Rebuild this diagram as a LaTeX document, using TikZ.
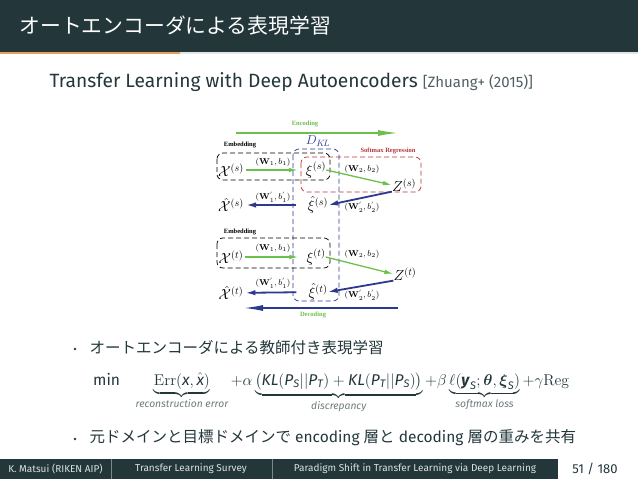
\documentclass[tikz,border=0pt]{standalone}
\usepackage{fix-cm}
\usepackage{amsmath}
\usepackage[no-math]{fontspec}
\setmainfont{Fira Sans}
\newfontfamily\jp{Noto Sans CJK JP}
\newfontfamily\tms{Liberation Serif}
\usetikzlibrary{arrows.meta}
\definecolor{mDark}{HTML}{23373B}
\definecolor{mOrange}{HTML}{E3A25C}
\definecolor{mLight}{HTML}{E4E4E4}
\definecolor{aeGreen}{HTML}{6CBF4A}
\definecolor{aeBlue}{HTML}{2B3A8F}
\definecolor{aeRed}{HTML}{B5343A}
\definecolor{footText}{HTML}{DCE1E2}
\definecolor{braceText}{HTML}{6F7B7D}
\newcommand{\bracelbl}[1]{\text{\fontsize{10.3}{11}\selectfont\itshape\color{braceText}#1}}

\begin{document}
\begin{tikzpicture}[x=1pt,y=-1pt,
  lbl/.style={font=\tms\bfseries\fontsize{6.5}{7}\selectfont,inner sep=0pt},
  var/.style={inner sep=0pt,font=\fontsize{14.5}{15}\selectfont},
  par/.style={inner sep=0pt,font=\fontsize{8.5}{9}\selectfont},
  dbox/.style={dash pattern=on 5pt off 3pt,rounded corners=6pt,line width=0.7pt},
  enc/.style={draw=aeGreen,line width=1.3pt,-{Latex[length=9pt,width=4.5pt]}},
  dec/.style={draw=aeBlue,line width=1.8pt,-{Latex[length=10pt,width=5.5pt]}},
  bul/.style={circle,fill=mDark,inner sep=0.9pt},
  foot/.style={text=footText,font=\fontsize{10}{12}\selectfont}]
\useasboundingbox (0,0) rectangle (638,479);

% header
\fill[mDark] (0,0) rectangle (638,52);
\fill[mLight] (0,52) rectangle (638,53.5);
\fill[mOrange] (0,52) rectangle (180,53.5);
\node[anchor=west,text=white,font=\jp\fontsize{20.8}{24}\selectfont] (title) at (16,26) {オートエンコーダによる表現学習};

\node[anchor=west,text=mDark,font=\fontsize{19.2}{22}\selectfont] (sub) at (46,82)
  {Transfer Learning with Deep Autoencoders {\fontsize{15}{17}\selectfont\color{mDark!80}[Zhuang+ (2015)]}};

% figure
\coordinate (encA) at (236,133);
\coordinate (encB) at (398,133);
\draw[draw=aeGreen,line width=1.4pt,-{Latex[length=20pt,width=6pt]}] (encA) -- (encB);
\node[lbl,text=aeGreen] (enc) at (305,124) {Encoding};
\node[lbl] (embS) at (240,145) {Embedding};
\node[lbl,text=aeRed] (soft) at (388,151) {Softmax Regression};
\node[inner sep=0pt,text=aeBlue,font=\fontsize{13}{14}\selectfont] (dkl) at (318,141) {$D_{K\!L}$};

\draw[dbox,aeBlue] (293,149) rectangle (339,301);
\draw[dbox,aeRed] (301,157) rectangle (421,192);
\draw[dbox] (217,153) rectangle (330,180);
\draw[dbox] (217,238) rectangle (330,268);

% source
\node[var] (xs) at (231,170) {$\mathcal{X}^{(s)}$};
\node[var] (xis) at (316,170) {$\xi^{(s)}$};
\node[var] (zs) at (404,185) {$Z^{(s)}$};
\node[var] (xihs) at (318,205) {$\hat{\xi}^{(s)}$};
\node[var] (xhs) at (231,205) {$\hat{\mathcal{X}}^{(s)}$};
\node[par] (w1s) at (273,162) {$(\mathbf{W}_1,b_1)$};
\node[par] (w2s) at (362,169) {$(\mathbf{W}_2,b_2)$};
\node[par] (w2hs) at (362,207) {$(\mathbf{W}_2^{'},b_2^{'})$};
\node[par] (w1hs) at (273,197) {$(\mathbf{W}_1^{'},b_1^{'})$};
\draw[enc,shorten <=2pt,shorten >=8pt] (xs) -- (xis);
\draw[enc] (xis.east) -- (zs.west);
\draw[dec] (zs.south west) -- (xihs.east);
\draw[dec,shorten <=12pt,shorten >=2pt] (xihs) -- (xhs);

% target
\node[lbl] (embT) at (240,232) {Embedding};
\node[var] (xt) at (231,257) {$\mathcal{X}^{(t)}$};
\node[var] (xit) at (316,257) {$\xi^{(t)}$};
\node[var] (zt) at (405,274) {$Z^{(t)}$};
\node[var] (xiht) at (318,292) {$\hat{\xi}^{(t)}$};
\node[var] (xht) at (231,293) {$\hat{\mathcal{X}}^{(t)}$};
\node[par] (w1t) at (273,248) {$(\mathbf{W}_1,b_1)$};
\node[par] (w2t) at (362,254) {$(\mathbf{W}_2,b_2)$};
\node[par] (w2ht) at (362,295) {$(\mathbf{W}_2^{'},b_2^{'})$};
\node[par] (w1ht) at (273,283) {$(\mathbf{W}_1^{'},b_1^{'})$};
\draw[enc,shorten <=2pt,shorten >=8pt] (xt) -- (xit);
\draw[enc] (xit.east) -- (zt.west);
\draw[dec] (zt.south west) -- (xiht.east);
\draw[dec,shorten <=12pt,shorten >=2pt] (xiht) -- (xht);

\coordinate (decA) at (398,308);
\coordinate (decB) at (243,308);
\draw[draw=aeBlue,line width=1.8pt,-{Latex[length=20pt,width=6pt]}] (decA) -- (decB);
\node[lbl,text=aeGreen] (dec) at (313,315) {Decoding};

% bullets
\node[bul] (b1) at (75,349) {};
\node[anchor=west,text=mDark,font=\jp\fontsize{15.5}{18}\selectfont] (item1) at (86,348) {オートエンコーダによる教師付き表現学習};
\node[anchor=north west,text=mDark,inner sep=0pt,font=\fontsize{15.6}{18}\selectfont] (loss) at (93,372)
  {min\quad $\underbrace{\mathrm{Err}(\textit{x},\hat{\textit{x}})}_{\bracelbl{reconstruction error}}
   +\alpha\underbrace{\bigl(\textit{KL}(\textit{P}_{\textit{S}}||\textit{P}_{\textit{T}})+\textit{KL}(\textit{P}_{\textit{T}}||\textit{P}_{\textit{S}})\bigr)}_{\bracelbl{discrepancy}}
   +\beta\underbrace{\ell(\textbf{\textit{y}}_{\textit{S}};\boldsymbol{\theta},\boldsymbol{\xi}_{\textit{S}})}_{\bracelbl{softmax loss}}
   +\gamma\mathrm{Reg}$};
\node[bul] (b2) at (75,439) {};
\node[anchor=west,text=mDark,font=\fontsize{15.5}{18}\selectfont] (item2) at (86,438)
  {{\jp 元ドメインと目標ドメインで} encoding {\jp 層と} decoding {\jp 層の重みを共有}};

% footer
\fill[mDark] (0,459) rectangle (558,479);
\foreach \x in {111,272}
  \draw[mDark!60!white,line width=0.5pt] (\x,459) -- (\x,479);
\node[foot] (f1) at (55.5,469) {K. Matsui (RIKEN AIP)};
\node[foot] (f2) at (191,469) {Transfer Learning Survey};
\node[foot] (f3) at (415,469) {Paradigm Shift in Transfer Learning via Deep Learning};
\node[text=mDark,font=\fontsize{13}{15}\selectfont] (pg) at (595,469) {51 / 180};
\end{tikzpicture}
\end{document}
